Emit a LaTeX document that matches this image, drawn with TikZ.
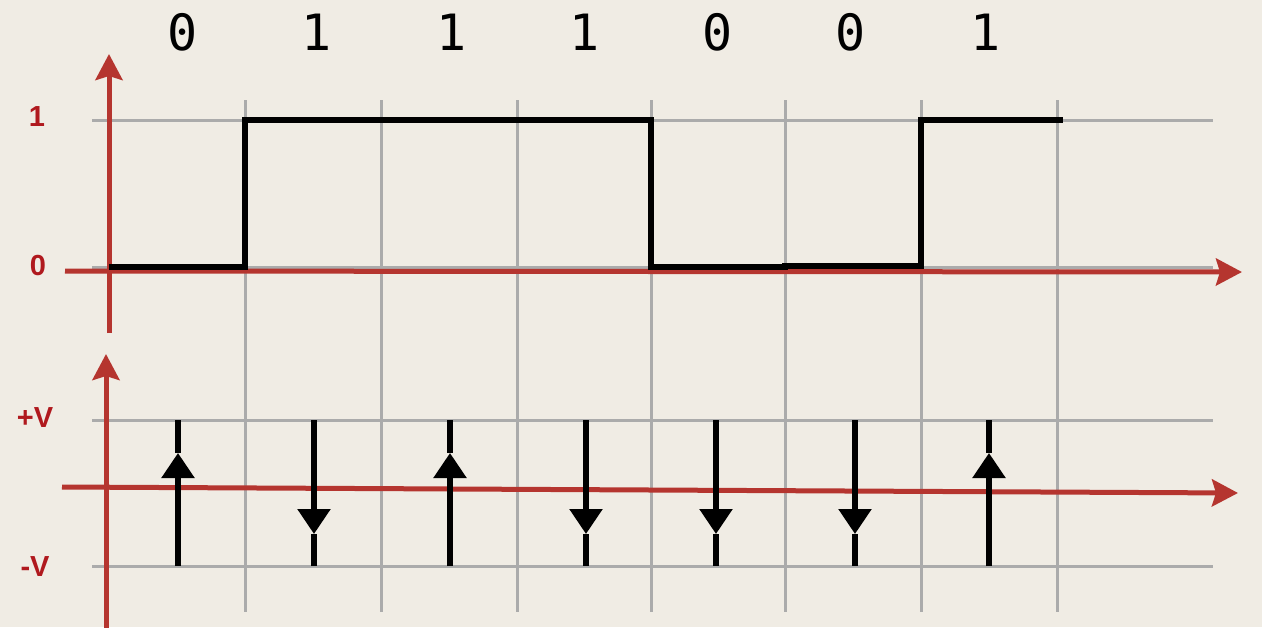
\documentclass[tikz,border=0pt]{standalone}
\usepackage{fontspec}
\setmainfont{Liberation Sans}
\newfontfamily\digitfont{DejaVu Sans Mono}
\usetikzlibrary{arrows.meta}
\definecolor{bgc}{HTML}{F0ECE4}
\definecolor{axisred}{HTML}{B5352F}
\definecolor{labred}{HTML}{B0191E}
\definecolor{gridgray}{HTML}{ABABAB}
\tikzset{
  gridline/.style={draw=gridgray, line width=3pt},
  axisline/.style={draw=axisred, line width=5pt, -{Stealth[length=26pt,width=27pt,inset=4pt]}},
  sigline/.style={draw=black, line width=5.5pt, line join=miter},
  spinline/.style={draw=black, line width=5.5pt},
  spinarrow/.style={draw=black, line width=5.5pt, -{Triangle[length=25pt,width=32pt]}},
  bitlab/.style={font=\digitfont\fontsize{50}{50}\selectfont, anchor=base, inner sep=0pt},
  axlab/.style={font=\bfseries\fontsize{29}{29}\selectfont, text=labred, anchor=base, inner sep=0pt}
}
\begin{document}
\begin{tikzpicture}[x=1pt,y=-1pt]
\fill[bgc] (0,0) rectangle (1262,627);
\useasboundingbox (0,0) rectangle (1262,627);
% grid verticals
\foreach \gx in {245,381,517,651,785,921,1057}{
  \draw[gridline] (\gx,100) -- (\gx,612);
}
% grid horizontals
\foreach \gy in {120,267,420,566}{
  \draw[gridline] (92,\gy) -- (1213,\gy);
}
% top axes
\coordinate (tyb) at (109,333);
\coordinate (tyt) at (109,54);
\coordinate (txl) at (65,271);
\coordinate (txr) at (1242,272);
\draw[axisline] (tyb) -- (tyt);
\draw[axisline] (txl) -- (txr);
% bottom axes
\coordinate (byb) at (106,630);
\coordinate (byt) at (106,354);
\coordinate (bxl) at (62,487);
\coordinate (bxr) at (1238,493);
\draw[axisline] (byb) -- (byt);
\draw[axisline] (bxl) -- (bxr);
% signal
\draw[sigline] (109,267) -- (245,267) -- (245,120) -- (651,120) -- (651,267) -- (785,267) -- (785,266) -- (921,266) -- (921,120) -- (1063,120);
% spin arrows
\foreach \sx/\dir in {178/u,314/d,450/u,586/d,716/d,855/d,989/u}{
  \coordinate (top\sx) at (\sx,420);
  \coordinate (bot\sx) at (\sx,566);
  \if\dir u
    \coordinate (mid\sx) at (\sx,453);
    \draw[spinarrow] (bot\sx) -- (mid\sx);
    \draw[spinline] (mid\sx) -- (top\sx);
  \else
    \coordinate (mid\sx) at (\sx,534);
    \draw[spinarrow] (top\sx) -- (mid\sx);
    \draw[spinline] (mid\sx) -- (bot\sx);
  \fi
}
% bit labels
\node[bitlab] (b1) at (183,50) {0};
\node[bitlab] (b2) at (317,50) {1};
\node[bitlab] (b3) at (452,50) {1};
\node[bitlab] (b4) at (585,50) {1};
\node[bitlab] (b5) at (718,50) {0};
\node[bitlab] (b6) at (851,50) {0};
\node[bitlab] (b7) at (986,50) {1};
% axis labels
\node[axlab] (l1) at (37,126) {1};
\node[axlab] (l0) at (38,275) {0};
\node[axlab] (lp) at (35,427) {+V};
\node[axlab] (lm) at (35,576) {-V};
\end{tikzpicture}
\end{document}
